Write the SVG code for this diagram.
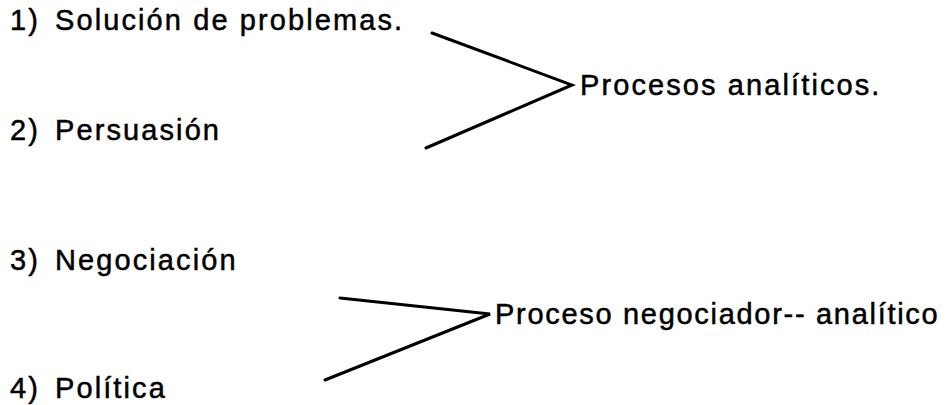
<svg xmlns="http://www.w3.org/2000/svg" width="949" height="405" viewBox="0 0 949 405">
<style>
text{font-family:"Liberation Sans",Arial,sans-serif;font-size:29px;letter-spacing:2.1px;fill:#000;stroke:#000;stroke-width:0.5}
.c{stroke:#000;stroke-width:3;fill:none;stroke-linecap:round;stroke-linejoin:miter}
#g2 text{letter-spacing:1.7px}
</style>
<rect width="949" height="405" fill="#fff"/>
<g id="n1"><text x="10" y="30">1)</text><text x="55" y="30">Solución de problemas.</text></g>
<g id="n2"><text x="10" y="140">2)</text><text x="55" y="140">Persuasión</text></g>
<g id="n3"><text x="10" y="270">3)</text><text x="55" y="270">Negociación</text></g>
<g id="n4"><text x="10" y="398">4)</text><text x="55" y="398">Política</text></g>
<g id="g1"><text x="580" y="95">Procesos analíticos.</text></g>
<g id="g2"><text x="495" y="324">Proceso negociador-- analítico</text></g>
<g id="connectors">
<path class="c" d="M432,33 L572,85 L426,148"/>
<path class="c" d="M340,298 L490,314 L325,380"/>
</g>
</svg>
